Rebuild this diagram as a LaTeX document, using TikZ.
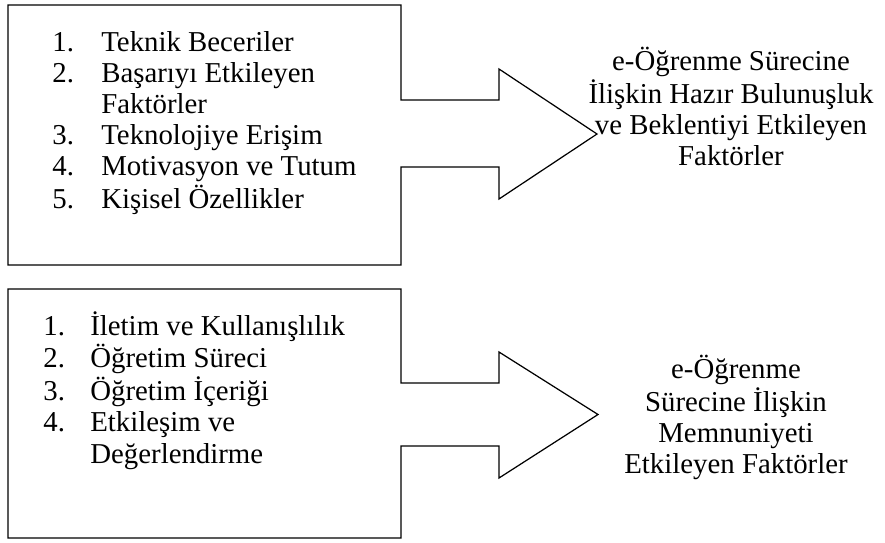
\documentclass[tikz,border=0pt]{standalone}
\usepackage{fontspec}
\setmainfont{Liberation Serif}
\usepackage{tikz}

\tikzset{
  outline/.style={line width=.7pt, line join=miter},
  items/.style={anchor=base west, inner sep=0pt, font=\fontsize{16.4}{17.7}\selectfont},
  result/.style={anchor=base, inner sep=0pt, font=\fontsize{16.4}{17.7}\selectfont}
}

\begin{document}
\begin{tikzpicture}
    \useasboundingbox (0,0) rectangle (17.7,10.84);
    % readiness: box with arrow
    \draw[outline] (0.16,10.74) -- (8.02,10.74) -- (8.02,8.84) -- (9.98,8.84)
      -- (9.98,9.46) -- (11.94,8.16) -- (9.98,6.86) -- (9.98,7.50)
      -- (8.02,7.50) -- (8.02,5.54) -- (0.16,5.54) -- cycle;
    \node[items] (list1) at (1.04,9.81) {\begin{tabular}[t]{@{}p{0.98cm}@{}l@{}}
      1. & Teknik Beceriler\\
      2. & Başarıyı Etkileyen\\
         & Faktörler\\
      3. & Teknolojiye Erişim\\
      4. & Motivasyon ve Tutum\\
      5. & Kişisel Özellikler
    \end{tabular}};
    \node[result] (goal1) at (14.62,9.44) {\begin{tabular}[t]{@{}c@{}}
      e-Öğrenme Sürecine\\
      İlişkin Hazır Bulunuşluk\\
      ve Beklentiyi Etkileyen\\
      Faktörler
    \end{tabular}};
    % satisfaction: box with arrow
    \draw[outline] (0.16,5.06) -- (8.02,5.06) -- (8.02,3.18) -- (9.98,3.18)
      -- (9.98,3.80) -- (11.96,2.55) -- (9.98,1.28) -- (9.98,1.92)
      -- (8.02,1.92) -- (8.02,0.08) -- (0.16,0.08) -- cycle;
    \node[items] (list2) at (0.86,4.14) {\begin{tabular}[t]{@{}p{0.94cm}@{}l@{}}
      1. & İletim ve Kullanışlılık\\
      2. & Öğretim Süreci\\
      3. & Öğretim İçeriği\\
      4. & Etkileşim ve\\
         & Değerlendirme
    \end{tabular}};
    \node[result] (goal2) at (14.72,3.28) {\begin{tabular}[t]{@{}c@{}}
      e-Öğrenme\\
      Sürecine İlişkin\\
      Memnuniyeti\\
      Etkileyen Faktörler
    \end{tabular}};
  \end{tikzpicture}
\end{document}
